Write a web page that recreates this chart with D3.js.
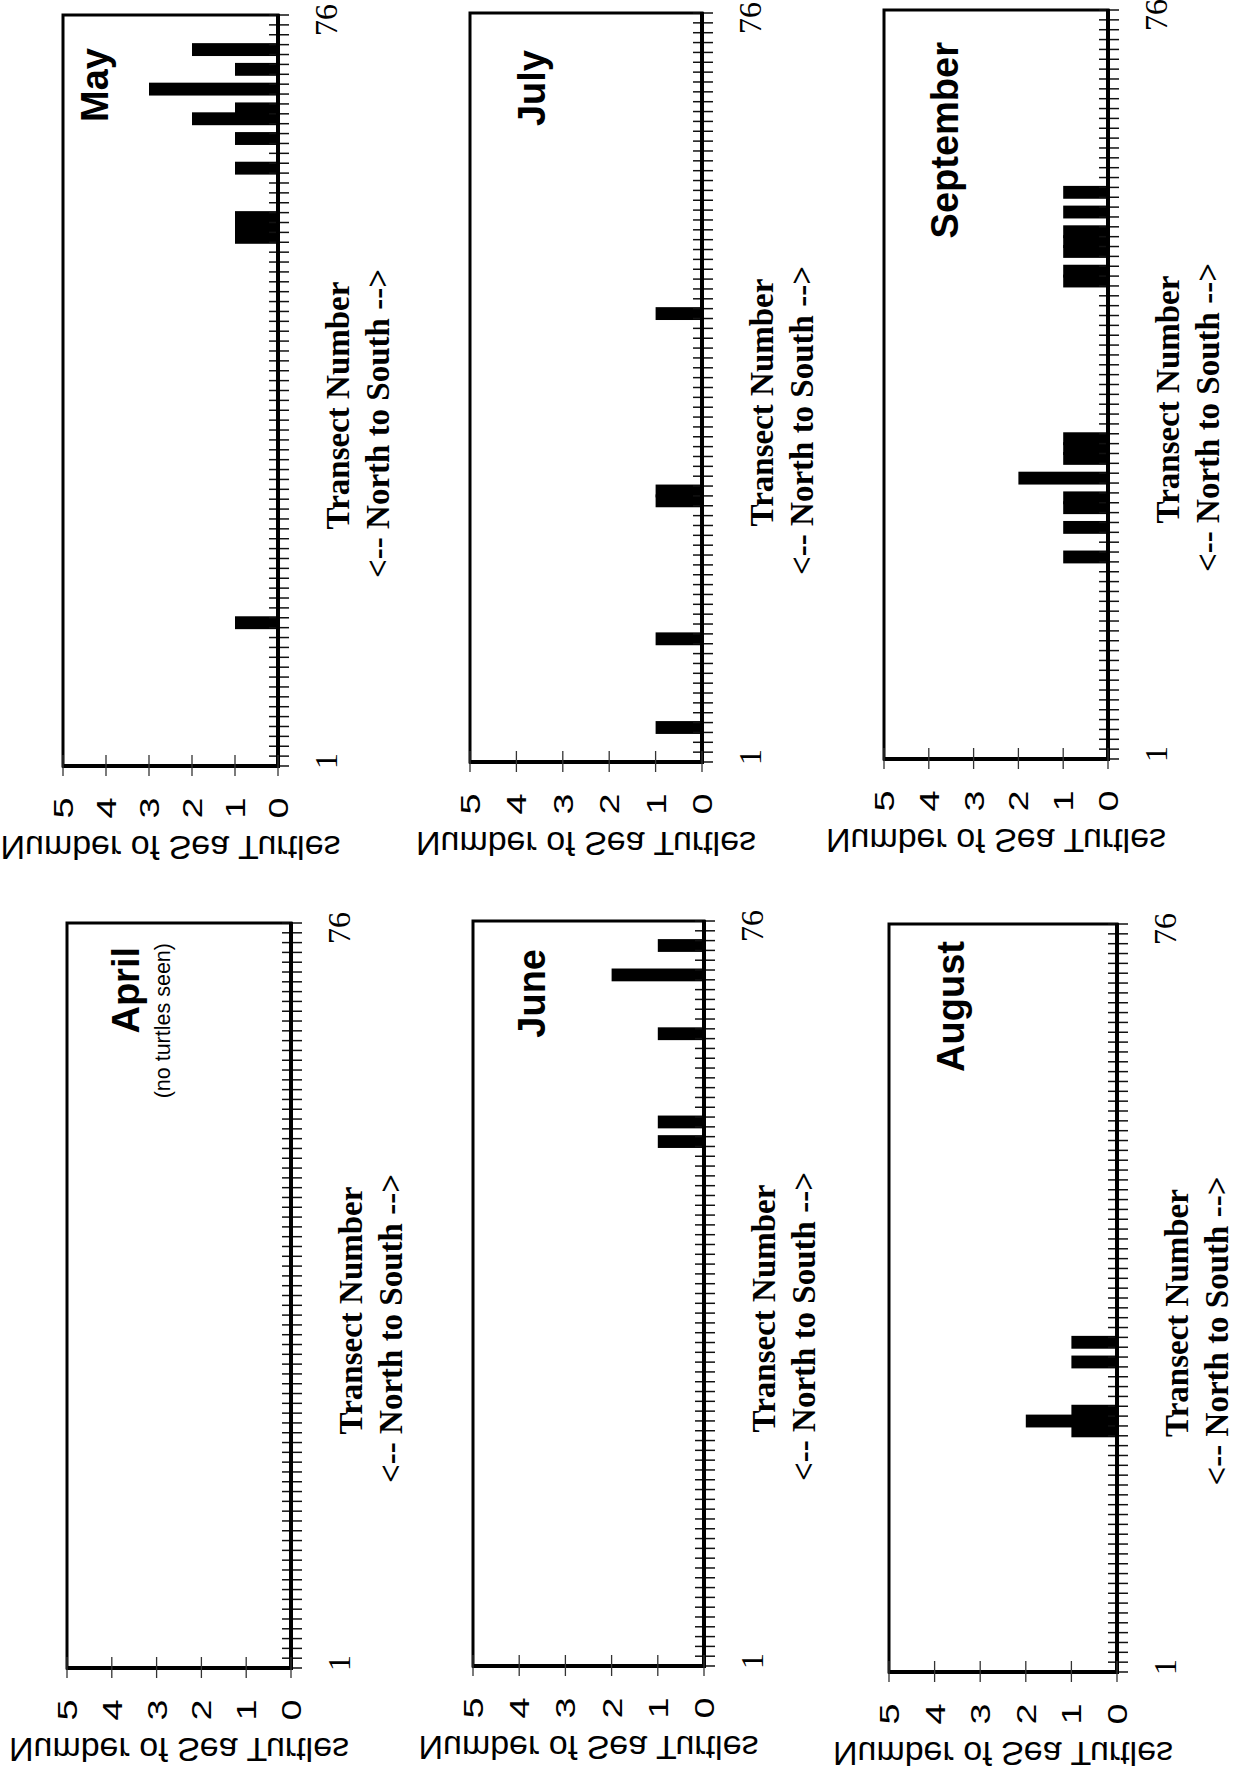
<!DOCTYPE html>
<html>
<head>
<meta charset="utf-8">
<style>
  body { margin: 0; background: #fff; }
  svg { display: block; }
</style>
<script src="https://cdn.jsdelivr.net/npm/d3@7"></script>
</head>
<body>
<div id="chart"></div>
<script>
const width = 1237;
const height = 1777;

// categories and ticks
const transects = d3.range(1, 77);
const transectLabels = [1, 76];
const countTicks = [0, 1, 2, 3, 4, 5];

// sea turtles seen per transect, by month (transects with zero are left out)
const aprilTransects = [];
const aprilCounts = [];
const mayTransects = [15, 54, 55, 56, 61, 64, 66, 67, 69, 71, 73];
const mayCounts = [1, 1, 1, 1, 1, 1, 2, 1, 3, 1, 2];
const juneTransects = [54, 56, 65, 71, 74];
const juneCounts = [1, 1, 1, 2, 1];
const julyTransects = [4, 13, 27, 28, 46];
const julyCounts = [1, 1, 1, 1, 1];
const augustTransects = [25, 26, 27, 32, 34];
const augustCounts = [1, 2, 1, 1, 1];
const septemberTransects = [21, 24, 26, 27, 29, 31, 32, 33, 49, 50, 52, 53, 54, 56, 58];
const septemberCounts = [1, 1, 1, 1, 2, 1, 1, 1, 1, 1, 1, 1, 1, 1, 1];

const sans = "'Liberation Sans', Arial, Helvetica, sans-serif";
const serif = "'Liberation Serif', 'Times New Roman', Times, serif";

// page is printed sideways: each panel's transect axis runs up the page
const panels = [
  { month: "May", t: mayTransects, c: mayCounts, left: 63, right: 278, top: 15, bottom: 766, labelX: 108, labelY: 48 },
  { month: "July", t: julyTransects, c: julyCounts, left: 470, right: 702, top: 13, bottom: 762, labelX: 545, labelY: 50 },
  { month: "September", t: septemberTransects, c: septemberCounts, left: 884, right: 1108, top: 10, bottom: 759, labelX: 958, labelY: 42 },
  { month: "April", t: aprilTransects, c: aprilCounts, left: 67, right: 291, top: 923, bottom: 1668, labelX: 139, labelY: 947,
    note: "(no turtles seen)", noteX: 170, noteY: 943 },
  { month: "June", t: juneTransects, c: juneCounts, left: 473, right: 704, top: 921, bottom: 1666, labelX: 545, labelY: 949 },
  { month: "August", t: augustTransects, c: augustCounts, left: 889, right: 1117, top: 924, bottom: 1672, labelX: 964, labelY: 941 },
];

const svg = d3.select("#chart")
  .append("svg")
  .attr("width", width)
  .attr("height", height)
  .attr("viewBox", `0 0 ${width} ${height}`);

svg.append("rect").attr("width", width).attr("height", height).attr("fill", "#fff");

const drawPanel = (p) => {
  const g = svg.append("g");

  const x = d3.scaleLinear().domain([0, 5]).range([p.right, p.left]);
  const y = d3.scaleBand().domain(transects).range([p.bottom, p.top]).padding(0);

  // frame
  g.append("rect")
    .attr("x", p.left)
    .attr("y", p.top)
    .attr("width", p.right - p.left)
    .attr("height", p.bottom - p.top)
    .attr("fill", "none")
    .attr("stroke", "#000")
    .attr("stroke-width", 3);

  // bars (scan ink spreads them a little past the band)
  g.selectAll(".bar")
    .data(d3.zip(p.t, p.c))
    .join("rect")
    .attr("class", "bar")
    .attr("x", (d) => x(d[1]))
    .attr("y", (d) => y(d[0]) - 1.5)
    .attr("width", (d) => x(0) - x(d[1]))
    .attr("height", y.bandwidth() + 3)
    .attr("fill", "#000");

  // transect ticks on the band edges
  const edges = transects.map((t) => y(t)).concat([p.bottom]);
  g.selectAll(".ttick")
    .data(edges)
    .join("line")
    .attr("class", "ttick")
    .attr("x1", p.right - 9)
    .attr("x2", p.right + 11)
    .attr("y1", (d) => d)
    .attr("y2", (d) => d)
    .attr("stroke", "#111")
    .attr("stroke-width", 1.5);

  // heavier axis lines
  g.append("line")
    .attr("x1", x(0)).attr("x2", x(0))
    .attr("y1", p.top - 1).attr("y2", p.bottom + 2)
    .attr("stroke", "#000").attr("stroke-width", 4);
  g.append("line")
    .attr("x1", p.left - 1).attr("x2", p.right + 2)
    .attr("y1", p.bottom).attr("y2", p.bottom)
    .attr("stroke", "#000").attr("stroke-width", 4);

  // count ticks
  g.selectAll(".ctick")
    .data(countTicks)
    .join("line")
    .attr("class", "ctick")
    .attr("x1", (d) => x(d))
    .attr("x2", (d) => x(d))
    .attr("y1", p.bottom - 11)
    .attr("y2", p.bottom + 10)
    .attr("stroke", "#333")
    .attr("stroke-width", 1.3);

  // digits in the scan are drawn wide, so stretch them along the reading direction
  g.selectAll(".clabel")
    .data(countTicks)
    .join("text")
    .attr("class", "clabel")
    .attr("transform", (d) => `translate(${x(d) + 10},${p.bottom + 42}) rotate(-90) scale(1.35,1)`)
    .attr("text-anchor", "middle")
    .attr("font-family", sans)
    .attr("font-size", 28)
    .text((d) => d);

  // first and last transect numbers
  g.selectAll(".tlabel")
    .data(transectLabels)
    .join("text")
    .attr("class", "tlabel")
    .attr("transform", (d) => `translate(${p.right + 59},${y(d) + y.bandwidth() / 2}) rotate(-90)`)
    .attr("text-anchor", "middle")
    .attr("font-family", serif)
    .attr("font-size", 32)
    .text((d) => d);

  const mid = (p.top + p.bottom) / 2;
  g.append("text")
    .attr("transform", `translate(${p.right + 71},${mid + 15}) rotate(-90)`)
    .attr("text-anchor", "middle")
    .attr("font-family", serif)
    .attr("font-weight", "bold")
    .attr("font-size", 33)
    .text("Transect Number");
  g.append("text")
    .attr("transform", `translate(${p.right + 111},${mid + 33}) rotate(-90)`)
    .attr("text-anchor", "middle")
    .attr("font-family", serif)
    .attr("font-weight", "bold")
    .attr("font-size", 33)
    .text("<-- North to South -->");

  // the count title comes out mirrored top to bottom in the original
  g.append("text")
    .attr("transform", `matrix(1,0,0,-1,${(p.left + p.right) / 2},${p.bottom + 70})`)
    .attr("text-anchor", "middle")
    .attr("font-family", sans)
    .attr("font-size", 34)
    .text("Number of Sea Turtles");

  g.append("text")
    .attr("transform", `translate(${p.labelX},${p.labelY}) rotate(-90)`)
    .attr("text-anchor", "end")
    .attr("font-family", sans)
    .attr("font-weight", "bold")
    .attr("font-size", 38)
    .text(p.month);

  if (p.note) {
    g.append("text")
      .attr("transform", `translate(${p.noteX},${p.noteY}) rotate(-90)`)
      .attr("text-anchor", "end")
      .attr("font-family", sans)
      .attr("font-size", 21.5)
      .text(p.note);
  }
};

panels.forEach(drawPanel);
</script>
</body>
</html>
